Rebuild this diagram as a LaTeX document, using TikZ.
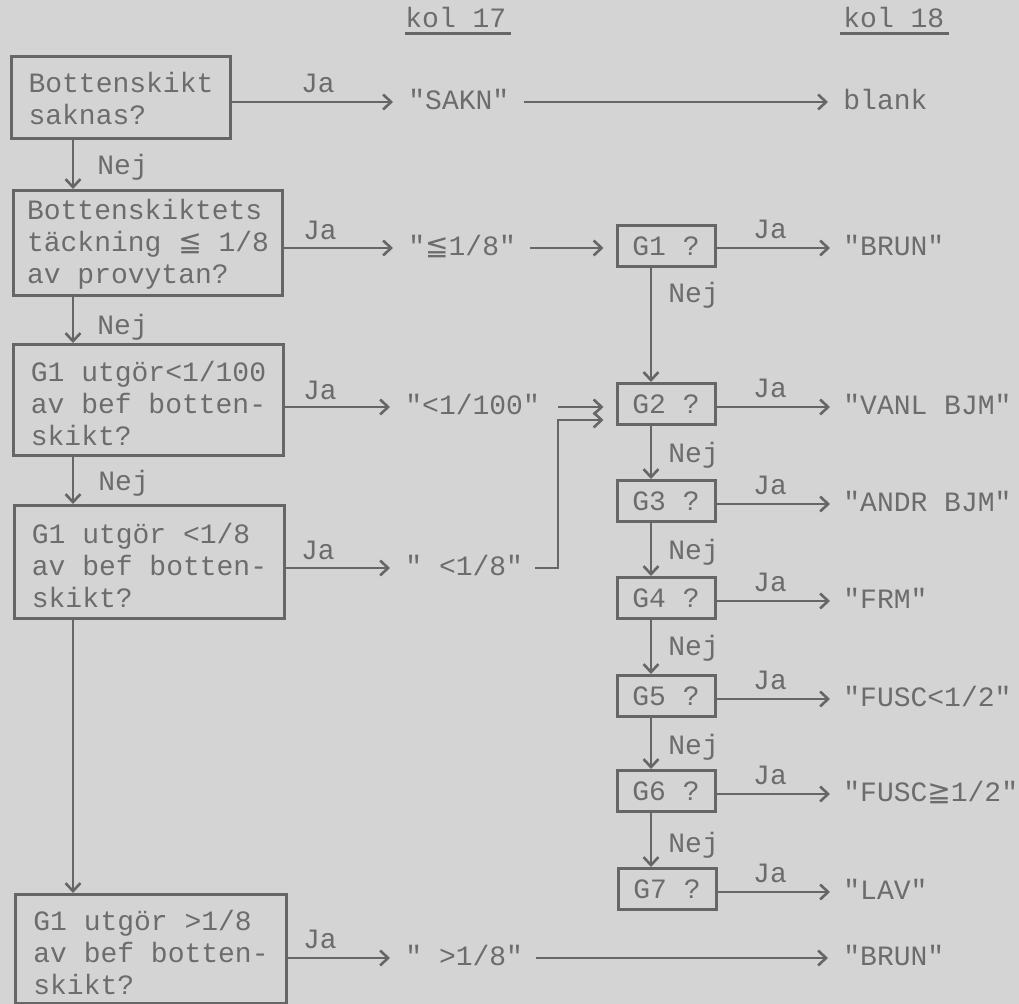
\documentclass[tikz,border=0pt]{standalone}
\usepackage{fontspec}
\setmonofont{Liberation Mono}
\newfontfamily\symf{DejaVu Sans}
\usetikzlibrary{arrows.meta}
\definecolor{bg}{HTML}{D4D4D4}
\definecolor{ink}{HTML}{666666}
\definecolor{txt}{HTML}{6C6C6C}
\newcommand{\mleq}{{\symf ≦}}
\newcommand{\mgeq}{{\symf ≧}}
\newcommand{\bx}[1]{\raisebox{-3.5pt}[\height][\depth]{\begin{tabular}{@{}l@{}}#1\end{tabular}}}
\tikzset{
  tt/.style={font=\ttfamily\fontsize{14}{16}\selectfont, text=txt},
  box/.style={tt, draw=ink, line width=1.5pt, inner sep=0pt},
  gbox/.style={box, minimum width=49pt, minimum height=20.5pt},
  lbl/.style={tt, inner sep=0pt},
  ln/.style={draw=ink, line width=1.3pt},
  arr/.style={ln, -{Straight Barb[length=4pt,width=7.5pt,line width=1.3pt]}},
}
\begin{document}
\begin{tikzpicture}[x=0.5pt,y=-0.5pt]
\fill[bg] (0,0) rectangle (1019,1004);
\useasboundingbox (0,0) rectangle (1019,1004);

% column headers
\node[lbl, anchor=base west] (k17) at (405,28) {kol 17};
\node[lbl, anchor=base west] (k18) at (843,28) {kol 18};
\draw[ln, line width=1.2pt] ([yshift=-2.5pt]k17.south west) -- ([yshift=-2.5pt,xshift=2pt]k17.south east);
\draw[ln, line width=1.2pt] ([yshift=-2.5pt,xshift=-1.5pt]k18.south west) -- ([yshift=-2.5pt,xshift=2pt]k18.south east);

% row coordinates
\coordinate (rA) at (0,102);
\coordinate (rB) at (0,248);
\coordinate (rC) at (0,407);
\coordinate (rD) at (0,568);
\coordinate (rE) at (0,958);
\coordinate (r2) at (0,407);
\coordinate (r3) at (0,504);
\coordinate (r4) at (0,601);
\coordinate (r5) at (0,699);
\coordinate (r6) at (0,794);
\coordinate (r7) at (0,892);
\coordinate (nx) at (73,0);
\coordinate (gx) at (651,0);
\coordinate (el) at (558,420);

% left decision boxes
\node[box, minimum width=109.5pt, minimum height=41pt, anchor=north west] (A) at (10,55)
  {\raisebox{-2.5pt}[\height][\depth]{\begin{tabular}{@{}l@{}}Bottenskikt\\saknas?\end{tabular}}};
\node[box, minimum width=134.5pt, minimum height=52.5pt, anchor=north west] (B) at (12,189)
  {\raisebox{-1pt}[\height][\depth]{\begin{tabular}{@{}l@{}}Bottenskiktets\\täckning \mleq{} 1/8\\av provytan?\end{tabular}}};
\node[box, minimum width=135pt, minimum height=55.5pt, anchor=north west] (C) at (12,343)
  {\bx{G1 utgör<1/100\\av bef botten-\\skikt?}};
\node[box, minimum width=135pt, minimum height=56.5pt, anchor=north west] (D) at (13,504)
  {\bx{G1 utgör <1/8\\av bef botten-\\skikt?}};
\node[box, minimum width=135.5pt, minimum height=54.5pt, anchor=north west] (E) at (14,893)
  {\bx{G1 utgör >1/8\\av bef botten-\\skikt?}};

% left column results (kol 17)
\node[lbl, anchor=base west] (sakn) at (408,110) {"SAKN"};
\node[lbl, anchor=base west] (le18) at (408,256) {"\mleq1/8"};
\node[lbl, anchor=base west] (lt100) at (405,415) {"<1/100"};
\node[lbl, anchor=base west] (lt8) at (405,576) {" <1/8"};
\node[lbl, anchor=base west] (gt8) at (405,966) {" >1/8"};

% G boxes
\node[gbox] (G1) at (666,246) {G1 ?};
\node[gbox] (G2) at (666,404) {G2 ?};
\node[gbox] (G3) at (666,501) {G3 ?};
\node[gbox] (G4) at (666,598) {G4 ?};
\node[gbox] (G5) at (666,696) {G5 ?};
\node[gbox] (G6) at (666,791) {G6 ?};
\node[gbox] (G7) at (667,889) {G7 ?};

% right column results (kol 18)
\node[lbl, anchor=base west] (blank) at (843,110) {blank};
\node[lbl, anchor=base west] (res1) at (843,256) {"BRUN"};
\node[lbl, anchor=base west] (res2) at (843,415) {"VANL BJM"};
\node[lbl, anchor=base west] (res3) at (843,512) {"ANDR BJM"};
\node[lbl, anchor=base west] (res4) at (843,609) {"FRM"};
\node[lbl, anchor=base west] (res5) at (843,707) {"FUSC<1/2"};
\node[lbl, anchor=base west] (res6) at (843,802) {"FUSC\mgeq1/2"};
\node[lbl, anchor=base west] (res7) at (843,900) {"LAV"};
\node[lbl, anchor=base west] (res8) at (843,966) {"BRUN"};

% Ja arrows from left boxes
\draw[arr, shorten >=7.5pt] (A.east |- rA) -- (sakn.west |- rA);
\draw[arr, shorten >=7.5pt] (B.east |- rB) -- (le18.west |- rB);
\draw[arr, shorten >=7.5pt] (C.east |- rC) -- (lt100.west |- rC);
\draw[arr, shorten >=7.5pt] (D.east |- rD) -- (lt8.west |- rD);
\draw[arr, shorten >=7.5pt] (E.east |- rE) -- (gt8.west |- rE);

% kol 17 onwards
\draw[arr, shorten <=7pt, shorten >=7.5pt] (sakn.east |- rA) -- (blank.west |- rA);
\draw[arr, shorten <=7pt, shorten >=6pt] (le18.east |- rB) -- (G1.west |- rB);
\draw[arr, shorten <=9pt, shorten >=6pt] (lt100.east |- rC) -- (G2.west |- rC);
\draw[arr, shorten <=6pt, shorten >=6pt] (lt8.east |- rD) -| (el) -- (G2.west |- el);
\draw[arr, shorten <=6.5pt, shorten >=7.5pt] (gt8.east |- rE) -- (res8.west |- rE);

% Ja arrows from G boxes
\draw[arr, shorten >=6.5pt] (G1.east |- rB) -- (res1.west |- rB);
\draw[arr, shorten >=6.5pt] (G2.east |- r2) -- (res2.west |- r2);
\draw[arr, shorten >=6.5pt] (G3.east |- r3) -- (res3.west |- r3);
\draw[arr, shorten >=6.5pt] (G4.east |- r4) -- (res4.west |- r4);
\draw[arr, shorten >=6.5pt] (G5.east |- r5) -- (res5.west |- r5);
\draw[arr, shorten >=6.5pt] (G6.east |- r6) -- (res6.west |- r6);
\draw[arr, shorten >=6.5pt] (G7.east |- r7) -- (res7.west |- r7);

% Nej arrows, left column
\draw[arr] (nx |- A.south) -- (nx |- B.north);
\draw[arr] (nx |- B.south) -- (nx |- C.north);
\draw[arr] (nx |- C.south) -- (nx |- D.north);
\draw[arr] (nx |- D.south) -- (nx |- E.north);

% Nej arrows, right column
\draw[arr] (gx |- G1.south) -- (gx |- G2.north);
\draw[arr] (gx |- G2.south) -- (gx |- G3.north);
\draw[arr] (gx |- G3.south) -- (gx |- G4.north);
\draw[arr] (gx |- G4.south) -- (gx |- G5.north);
\draw[arr] (gx |- G5.south) -- (gx |- G6.north);
\draw[arr] (gx |- G6.south) -- (gx |- G7.north);

% Ja labels
\node[lbl, anchor=base] (jaA) at (318,93) {Ja};
\node[lbl, anchor=base] (jaB) at (320,240) {Ja};
\node[lbl, anchor=base] (jaC) at (320,400) {Ja};
\node[lbl, anchor=base] (jaD) at (318,560) {Ja};
\node[lbl, anchor=base] (jaE) at (320,949) {Ja};
\node[lbl, anchor=base] (ja1) at (770,239) {Ja};
\node[lbl, anchor=base] (ja2) at (770,398) {Ja};
\node[lbl, anchor=base] (ja3) at (770,495) {Ja};
\node[lbl, anchor=base] (ja4) at (770,592) {Ja};
\node[lbl, anchor=base] (ja5) at (770,690) {Ja};
\node[lbl, anchor=base] (ja6) at (770,785) {Ja};
\node[lbl, anchor=base] (ja7) at (770,883) {Ja};

% Nej labels
\node[lbl, anchor=base west] (nejA) at (97,175) {Nej};
\node[lbl, anchor=base west] (nejB) at (97,335) {Nej};
\node[lbl, anchor=base west] (nejC) at (98,491) {Nej};
\node[lbl, anchor=base west] (nej1) at (668,303) {Nej};
\node[lbl, anchor=base west] (nej2) at (668,463) {Nej};
\node[lbl, anchor=base west] (nej3) at (668,560) {Nej};
\node[lbl, anchor=base west] (nej4) at (668,656) {Nej};
\node[lbl, anchor=base west] (nej5) at (668,755) {Nej};
\node[lbl, anchor=base west] (nej6) at (668,853) {Nej};
\end{tikzpicture}
\end{document}
